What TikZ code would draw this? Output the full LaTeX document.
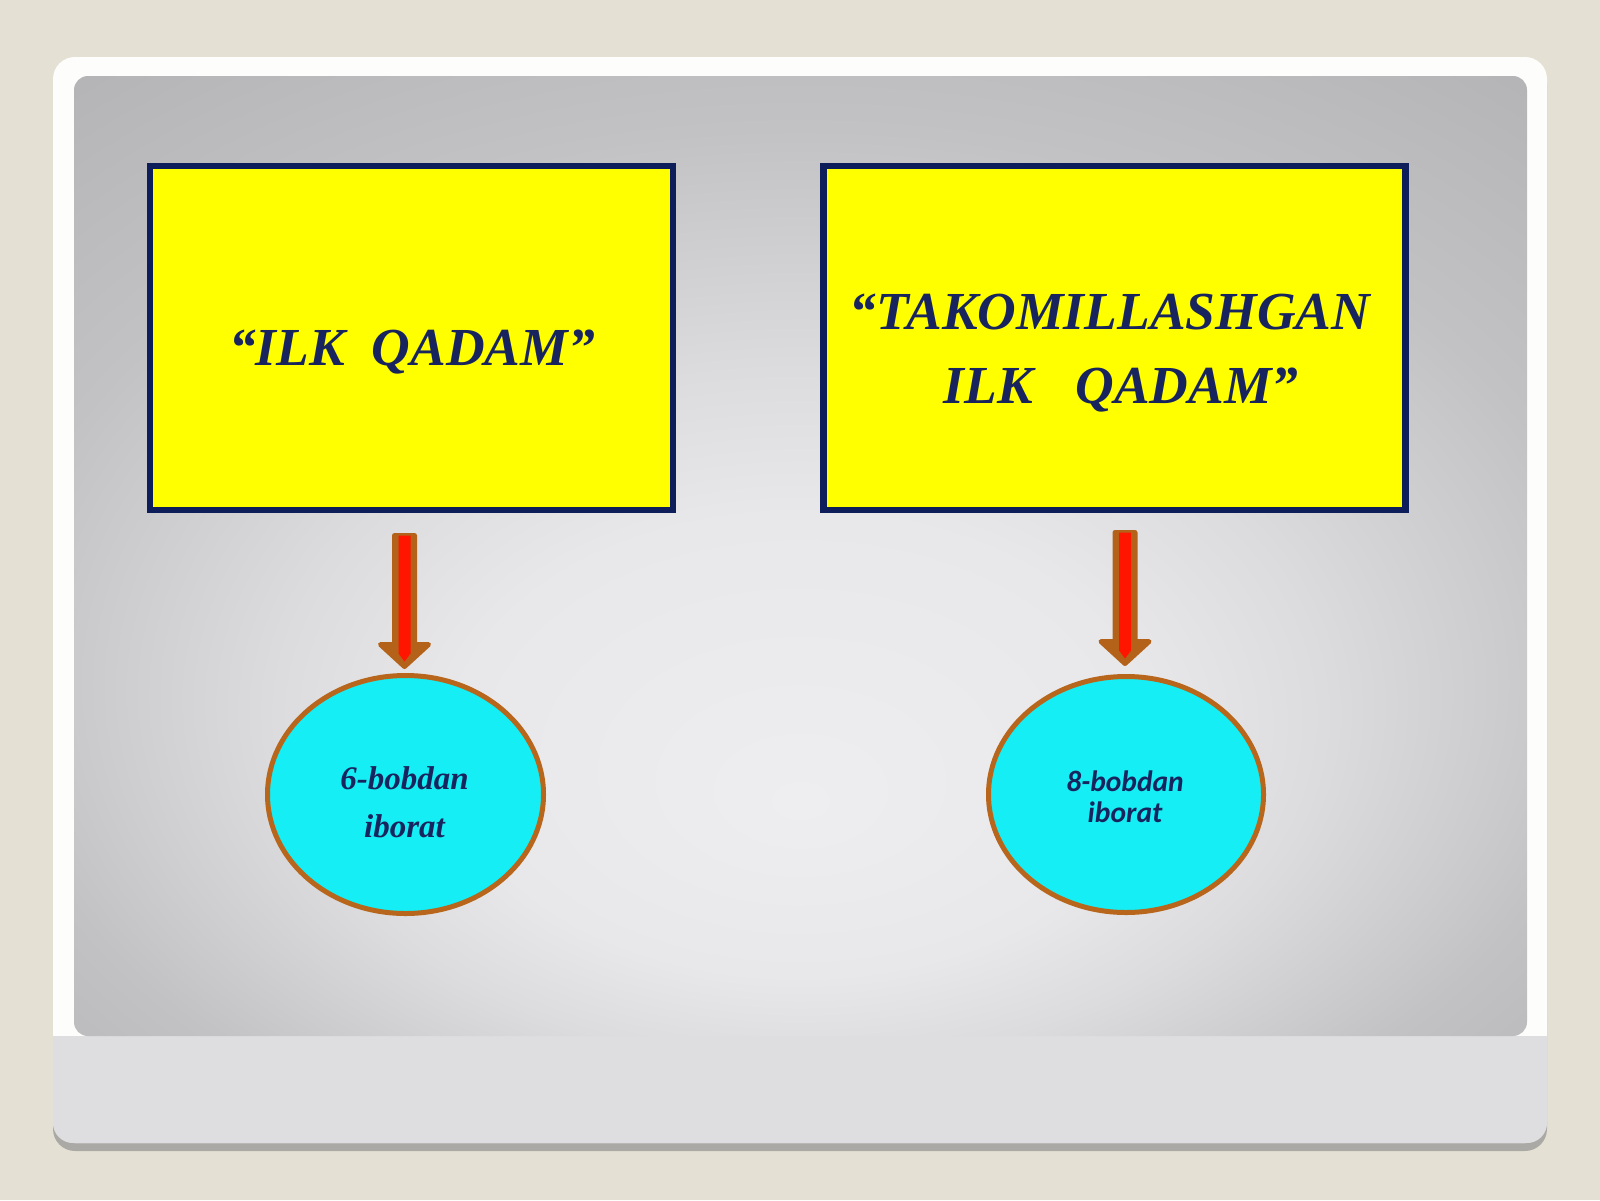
\documentclass[tikz,border=0pt]{standalone}
\usepackage{fontspec}
\setmainfont{Liberation Serif}
\newfontfamily\carlito{Carlito}
\usetikzlibrary{shapes.geometric}
\definecolor{bgbeige}{HTML}{E4E0D3}
\definecolor{frameshadow}{HTML}{AAA9A5}
\definecolor{framewhite}{HTML}{FDFDFB}
\definecolor{lowstrip}{HTML}{DEDDDF}
\definecolor{pcA}{HTML}{EEEEF0}
\definecolor{pcB}{HTML}{E8E8EA}
\definecolor{pcC}{HTML}{DCDCDE}
\definecolor{pcD}{HTML}{C2C2C4}
\definecolor{pcE}{HTML}{B4B4B6}
\definecolor{pcF}{HTML}{A9A9AB}
\definecolor{pcG}{HTML}{A6A6A8}
\definecolor{boxyellow}{HTML}{FFFF00}
\definecolor{boxnavy}{HTML}{0E1E5B}
\definecolor{textnavy}{HTML}{18245E}
\definecolor{ovalcyan}{HTML}{14EEF4}
\definecolor{ovalbrown}{HTML}{B8661C}
\definecolor{arrowred}{HTML}{FF1500}
\definecolor{arrowbrown}{HTML}{B4621A}
\pgfdeclareradialshading{panelshade}{\pgfpoint{0bp}{-13bp}}{color(0bp)=(pcA); color(12bp)=(pcB); color(18bp)=(pcC); color(28bp)=(pcD); color(38bp)=(pcE); color(46bp)=(pcF); color(50bp)=(pcG)}
\tikzset{
  ybox/.style={draw=boxnavy, line width=6.5pt, fill=boxyellow, inner sep=0pt},
  titletext/.style={text=textnavy, font=\fontsize{53.5}{64}\selectfont\bfseries\itshape, inner sep=0pt, align=center},
  oval/.style={ellipse, draw=ovalbrown, line width=5pt, fill=ovalcyan, inner sep=0pt},
  serifsmall/.style={text=textnavy, font=\fontsize{33}{48}\selectfont\bfseries\itshape, inner sep=0pt, align=center},
  sanssmall/.style={text=textnavy, font=\carlito\fontsize{29.5}{31.5}\selectfont\bfseries\itshape, inner sep=0pt, align=center},
  blockarrow/.style={draw=arrowbrown, fill=arrowbrown, line width=5pt, line join=round},
  arrowcore/.style={fill=arrowred}
}
\begin{document}
\begin{tikzpicture}[x=1pt, y=-1pt]
\useasboundingbox (0,0) rectangle (1600,1200);
% page background
\fill[bgbeige] (0,0) rectangle (1600,1200);
% frame
\fill[frameshadow, rounded corners=22] (53,62) rectangle (1547,1151);
\fill[framewhite, rounded corners=22] (53,57) rectangle (1547,1143);
\fill[lowstrip, rounded corners=20] (53,1000) rectangle (1547,1143);
\fill[framewhite] (53,1000) rectangle (1547,1036);
% grey panel
\shade[shading=panelshade, rounded corners=14] (74,76) rectangle (1527,1036);

% boxes
\node[ybox, minimum width=523, minimum height=344] (b1) at (411.5,338) {};
\node[ybox, minimum width=582, minimum height=344] (b2) at (1114.5,338) {};
\node[titletext, anchor=base] (t1) at (412,365) {“ILK\hspace{0.5em}QADAM”};
\node[titletext, anchor=base] (t2) at (1110,329) {“TAKOMILLASHGAN};
\node[titletext, anchor=base] (t3) at (1121,403) {ILK\hspace{0.8em}QADAM”};

% ovals
\node[oval, minimum width=276, minimum height=238] (e1) at (405.5,794.5) {};
\node[oval, minimum width=275, minimum height=236] (e2) at (1126,794.5) {};
\node[serifsmall, anchor=base] (s1) at (404.5,789) {6-bobdan};
\node[serifsmall, anchor=base] (s2) at (404.5,837) {iborat};
\node[sanssmall, anchor=base] (s3) at (1125,791) {8-bobdan};
\node[sanssmall, anchor=base] (s4) at (1125,822) {iborat};

% block arrows
\coordinate (a1) at (404.5,535.5);
\coordinate (a2) at (1125,532.5);
\foreach \c in {a1,a2}{
  \draw[blockarrow] (\c) ++(-10,0) -- ++(20,0) -- ++(0,109) -- ++(14,0)
     -- ++(-24,22) -- ++(-24,-22) -- ++(14,0) -- cycle;
  \fill[arrowcore] (\c) ++(-6,0) -- ++(12,0) -- ++(0,118) -- ++(-6,8) -- ++(-6,-8) -- cycle;
}
\end{tikzpicture}
\end{document}
